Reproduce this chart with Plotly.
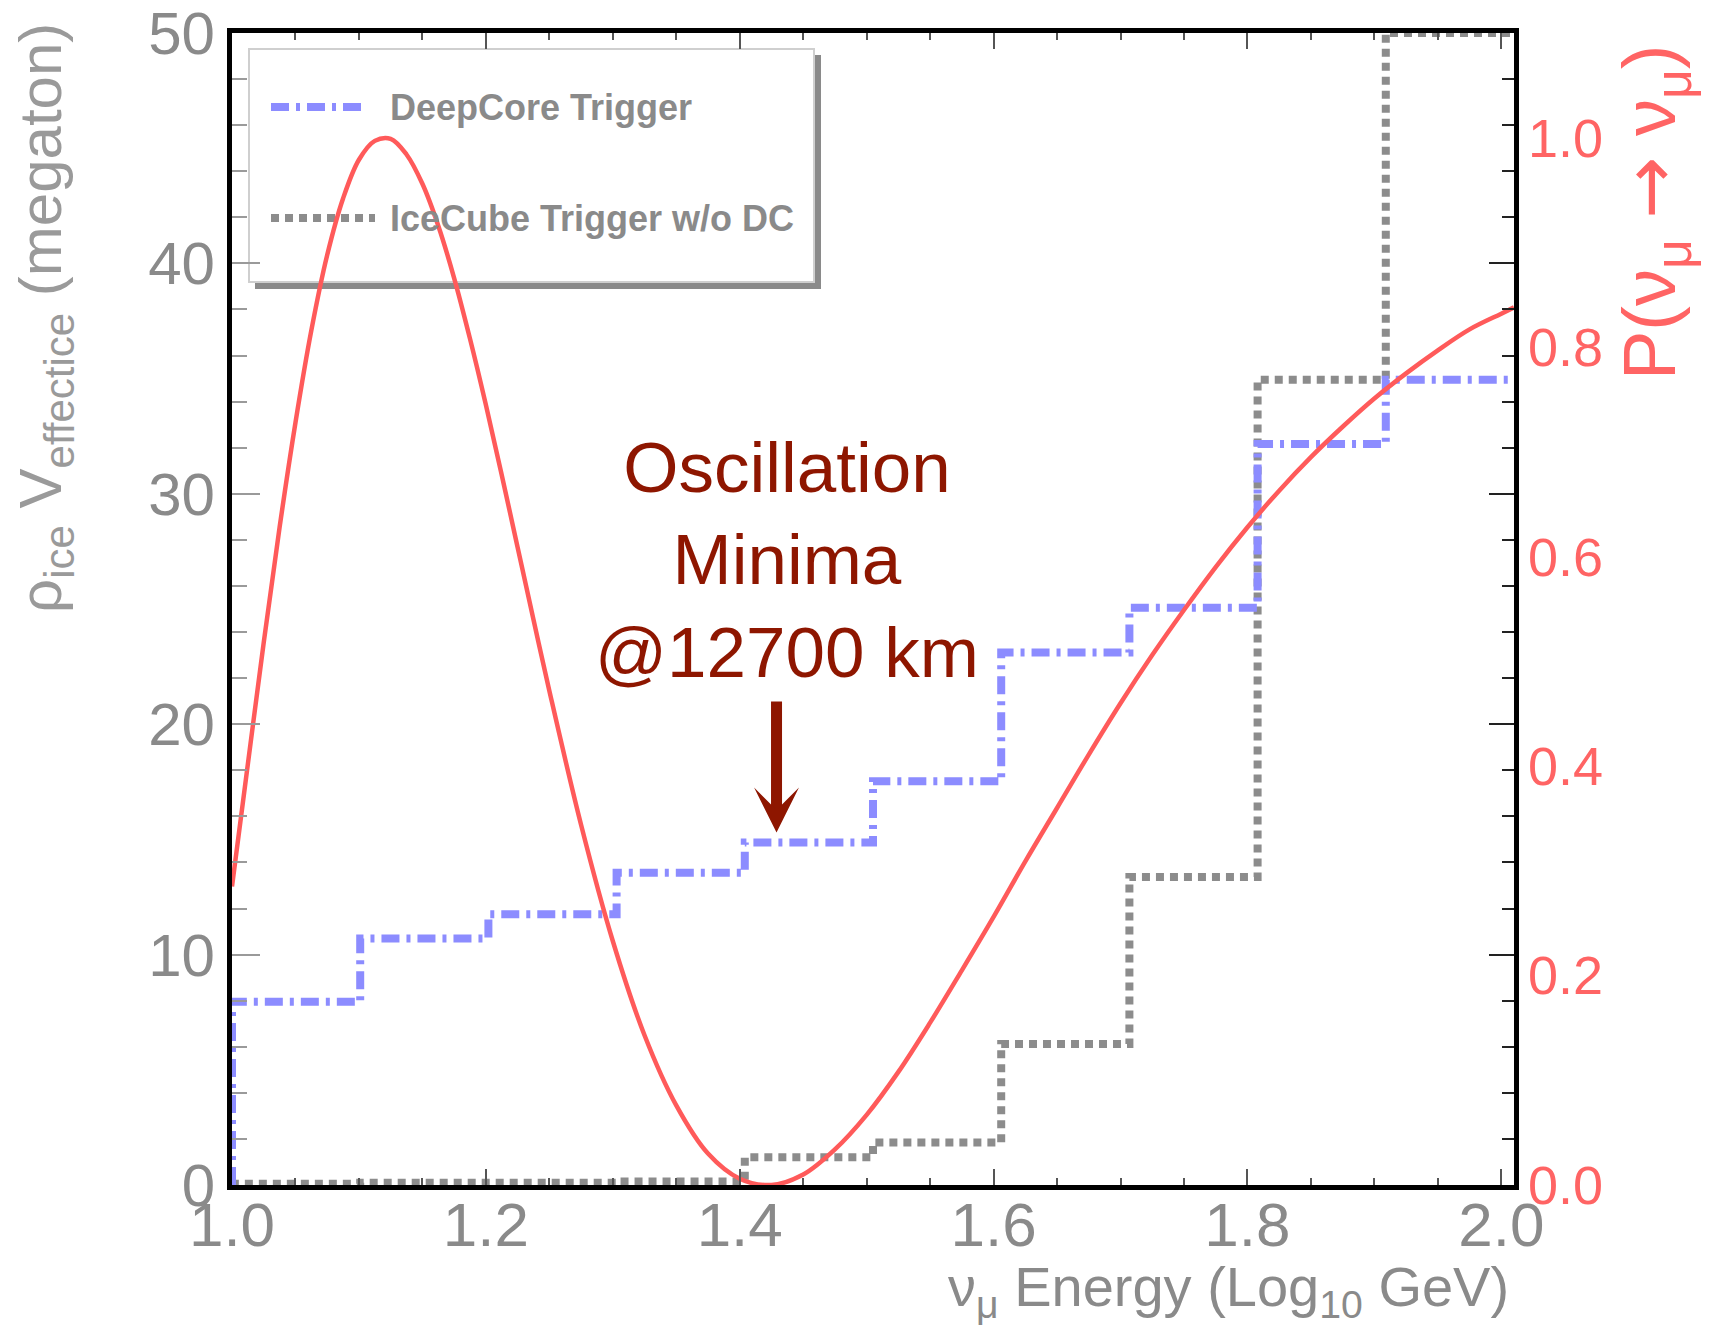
import plotly.graph_objects as go

# ---------------- data ----------------
bin_edges = [1.0, 1.101, 1.202, 1.303, 1.404, 1.505, 1.606, 1.707, 1.808, 1.909, 2.01]
deepcore = [7.95, 10.70, 11.75, 13.55, 14.87, 17.52, 23.11, 25.05, 32.16, 34.95]
icecube = [0.05, 0.1, 0.1, 0.15, 1.2, 1.85, 6.12, 13.37, 34.95, 50.0]

osc_x = [1.000, 1.0125, 1.025, 1.0375, 1.050, 1.0625, 1.075, 1.0875, 1.100, 1.1125,
         1.125, 1.1375, 1.150, 1.1625, 1.175, 1.1875, 1.200, 1.2125, 1.225, 1.2375,
         1.250, 1.275, 1.300, 1.325, 1.350, 1.375, 1.400, 1.425, 1.450, 1.475,
         1.500, 1.525, 1.550, 1.575, 1.600, 1.625, 1.650, 1.675, 1.700, 1.725,
         1.750, 1.775, 1.800, 1.825, 1.850, 1.875, 1.900, 1.925, 1.950, 1.975,
         2.000, 2.010]
osc_p = [0.285, 0.402, 0.518, 0.628, 0.728, 0.816, 0.888, 0.942, 0.979, 0.997,
         0.999, 0.984, 0.956, 0.916, 0.866, 0.808, 0.745, 0.678, 0.609, 0.540,
         0.472, 0.344, 0.233, 0.143, 0.076, 0.030, 0.006, 0.000, 0.010, 0.034,
         0.067, 0.108, 0.155, 0.205, 0.256, 0.309, 0.360, 0.411, 0.460, 0.506,
         0.549, 0.590, 0.628, 0.663, 0.695, 0.724, 0.751, 0.775, 0.797, 0.817,
         0.832, 0.838]

x_ticks = [1.0, 1.2, 1.4, 1.6, 1.8, 2.0]
y_ticks = [0, 10, 20, 30, 40, 50]
p_ticks = [0.0, 0.2, 0.4, 0.6, 0.8, 1.0]

names = ["DeepCore Trigger", "IceCube Trigger w/o DC"]
annot_text = "Oscillation<br>Minima<br>@12700 km"

# ---------------- style ----------------
W, H = 1711, 1326
L, R, T, B = 232, 1514, 33, 1185
PW, PH = R - L, B - T
FONT = "Liberation Sans, Helvetica, Arial, sans-serif"
BLUE = "#8c8cff"
GRAY = "#8c8c8c"
RED = "#ff5a5a"
DARKRED = "#8e1600"
TICKGRAY = "#8a8a8a"


def px(xp):
    return (xp - L) / PW


def py(yp):
    return (B - yp) / PH


def step_xy(edges, vals):
    return [edges[0]] + list(edges), [0] + list(vals) + [vals[-1]]


fig = go.Figure()

gx, gy = step_xy(bin_edges, icecube)
fig.add_trace(go.Scatter(x=gx, y=gy, mode="lines", line_shape="hv", name=names[1],
                         line=dict(color=GRAY, width=8, dash="8px,6px"),
                         hoverinfo="skip"))
bx, by = step_xy(bin_edges, deepcore)
fig.add_trace(go.Scatter(x=bx, y=by, mode="lines", line_shape="hv", name=names[0],
                         line=dict(color=BLUE, width=8, dash="18px,7px,4px,7px"),
                         hoverinfo="skip"))
fig.add_trace(go.Scatter(x=osc_x, y=osc_p, mode="lines", yaxis="y2",
                         line=dict(color=RED, width=4.5, shape="spline", smoothing=1.0),
                         name="P", hoverinfo="skip"))
# invisible helper so the mirrored right tick axis is drawn
fig.add_trace(go.Scatter(x=[bin_edges[0]], y=[0], yaxis="y3", mode="markers",
                         marker=dict(opacity=0), hoverinfo="skip"))

shapes = []
# legend shadow + box
shapes.append(dict(type="rect", xref="paper", yref="paper", layer="below",
                   x0=px(255), x1=px(821), y0=py(289), y1=py(55),
                   fillcolor="#8a8a8a", line=dict(width=0)))
shapes.append(dict(type="rect", xref="paper", yref="paper", layer="below",
                   x0=px(249), x1=px(814), y0=py(282), y1=py(49),
                   fillcolor="white", line=dict(color="#cfcfcf", width=2)))
shapes.append(dict(type="line", xref="paper", yref="paper", layer="below",
                   x0=px(271), x1=px(366), y0=py(107), y1=py(107),
                   line=dict(color=BLUE, width=8, dash="18px,7px,4px,7px")))
shapes.append(dict(type="line", xref="paper", yref="paper", layer="below",
                   x0=px(271), x1=px(375), y0=py(218), y1=py(218),
                   line=dict(color=GRAY, width=8, dash="8px,6px")))

arrow_span = '<span style="font-family:DejaVu Sans">→</span>'

annotations = [
    dict(xref="paper", yref="paper", x=px(388), y=py(107), xanchor="left", yanchor="middle",
         text="<b>" + names[0] + "</b>", showarrow=False,
         font=dict(family=FONT, size=36, color=TICKGRAY)),
    dict(xref="paper", yref="paper", x=px(388), y=py(218), xanchor="left", yanchor="middle",
         text="<b>" + names[1] + "</b>", showarrow=False,
         font=dict(family=FONT, size=36, color=TICKGRAY)),
    dict(xref="x", yref="paper", x=1.437, y=py(560), xanchor="center", yanchor="middle",
         text=annot_text, showarrow=False, align="center",
         font=dict(family=FONT, size=71, color=DARKRED)),
    dict(xref="x", yref="y", x=1.429, y=15.3, axref="x", ayref="y", ax=1.429, ay=21.05,
         text="", showarrow=True, arrowhead=3, arrowsize=0.68, arrowwidth=11,
         arrowcolor=DARKRED, standoff=0, startstandoff=0),
    dict(xref="paper", yref="paper", x=px(45), y=py(318), xanchor="center", yanchor="middle",
         textangle=-90, showarrow=False,
         text="ρ<sub>ice</sub> V<sub>effectice</sub> (megaton)",
         font=dict(family=FONT, size=60, color="#9a9a9a")),
    dict(xref="paper", yref="paper", x=px(1654), y=py(212), xanchor="center", yanchor="middle",
         textangle=-90, showarrow=False,
         text="P(ν<sub>μ</sub> " + arrow_span + " ν<sub>μ</sub>)",
         font=dict(family=FONT, size=74, color="#ff6464")),
    dict(xref="paper", yref="paper", x=px(1511), y=py(1290), xanchor="right", yanchor="middle",
         showarrow=False,
         text="ν<sub>μ</sub> Energy (Log<sub>10</sub> GeV)",
         font=dict(family=FONT, size=56, color=TICKGRAY)),
]

fig.update_layout(
    width=W, height=H,
    margin=dict(l=L, r=W - R, t=T, b=H - B, autoexpand=False),
    paper_bgcolor="white", plot_bgcolor="white",
    showlegend=False,
    font=dict(family=FONT),
    shapes=shapes,
    annotations=annotations,
    xaxis=dict(range=[1.0, 2.01], tickvals=x_ticks, ticktext=[f"{v:.1f}" for v in x_ticks],
               ticks="inside", ticklen=16, tickwidth=2, tickcolor="#555",
               ticklabelstandoff=-18,
               minor=dict(dtick=0.05, tick0=1.0, ticks="inside", ticklen=7, tickwidth=2,
                          tickcolor="#555", showgrid=False),
               showline=True, linewidth=5, linecolor="black", mirror="ticks",
               showgrid=False, zeroline=False,
               tickfont=dict(family=FONT, size=62, color=TICKGRAY)),
    yaxis=dict(range=[0, 50], tickvals=y_ticks, ticks="inside", ticklen=28, tickwidth=2,
               tickcolor="#9a9a9a",
               minor=dict(dtick=2, tick0=0, ticks="inside", ticklen=15, tickwidth=2,
                          tickcolor="#9a9a9a", showgrid=False),
               showline=True, linewidth=5, linecolor="black", mirror=True,
               showgrid=False, zeroline=False,
               tickfont=dict(family=FONT, size=60, color=TICKGRAY)),
    yaxis2=dict(range=[0, 1.1], overlaying="y", side="right", tickvals=p_ticks,
                ticktext=[f"{v:.1f}" for v in p_ticks], ticks="", showline=False,
                ticklabelstandoff=13,
                showgrid=False, zeroline=False,
                tickfont=dict(family=FONT, size=54, color="#ff6464")),
    yaxis3=dict(range=[0, 50], overlaying="y", side="right", tickvals=y_ticks,
                ticks="inside", ticklen=25, tickwidth=2, tickcolor="#222",
                minor=dict(dtick=2, tick0=0, ticks="inside", ticklen=12, tickwidth=2,
                           tickcolor="#222", showgrid=False),
                showticklabels=False, showline=False, showgrid=False, zeroline=False),
)

fig.write_html("out.html")
